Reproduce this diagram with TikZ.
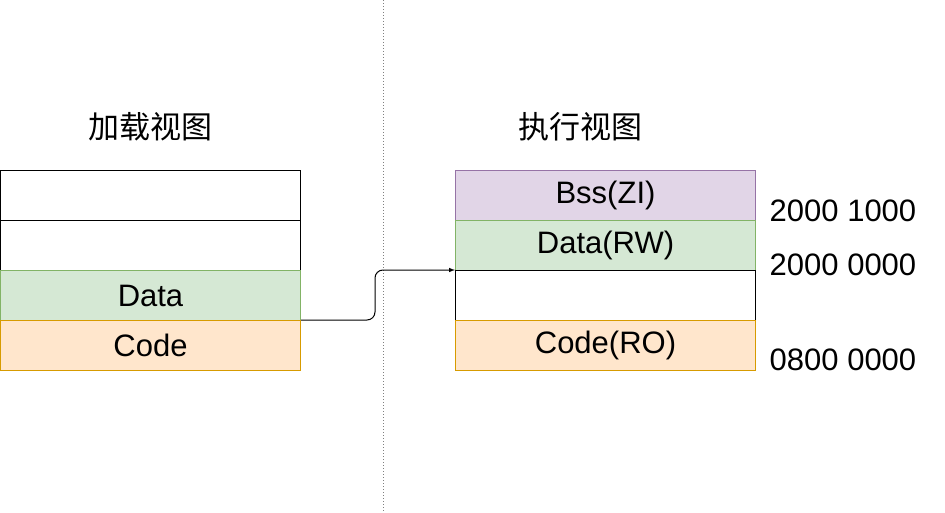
\documentclass[tikz,border=0pt]{standalone}
\usepackage{fontspec}
\setmainfont{Liberation Sans}
\newfontfamily\cjk{Noto Sans CJK SC}
\begin{document}
\begin{tikzpicture}[x=1pt,y=-1pt,line width=1pt,
  box/.style={draw=black,fill=white,minimum width=300pt,minimum height=50pt,anchor=north west,inner sep=0pt,font=\fontsize{31}{36}\selectfont},
  grn/.style={box,fill={rgb,255:red,213;green,232;blue,212},draw={rgb,255:red,130;green,179;blue,102}},
  org/.style={box,fill={rgb,255:red,255;green,230;blue,204},draw={rgb,255:red,215;green,155;blue,0}},
  pur/.style={box,fill={rgb,255:red,225;green,213;blue,231},draw={rgb,255:red,150;green,115;blue,166}},
  lbl/.style={font=\fontsize{31}{36}\selectfont},
  ttl/.style={font=\cjk\fontsize{31}{36}\selectfont}]
\useasboundingbox (0,0) rectangle (945,513);
\draw[dotted,gray] (383,0) -- (383,513);
\node[ttl] (t1) at (150,127) {加载视图};
\node[ttl] (t2) at (580,127) {执行视图};
\node[box] (l1) at (0,170) {};
\node[box] (l2) at (0,220) {};
\node[grn] (l3) at (0,270) {Data};
\node[org] (l4) at (0,320) {Code};
\node[pur] (r1) at (455,170) {Bss(ZI)};
\node[grn] (r2) at (455,220) {Data(RW)};
\node[box] (r3) at (455,270) {};
\node[org] (r4) at (455,320) {Code(RO)};
\node[lbl] (a1) at (843,211) {2000 1000};
\node[lbl] (a2) at (843,265) {2000 0000};
\node[lbl] (a3) at (843,360) {0800 0000};
\coordinate (s) at (l4.north east);
\coordinate (e) at (r3.north west);
\draw[-latex,rounded corners=8pt] (s) -- (375,320) -- (375,270) -- (e);
\end{tikzpicture}
\end{document}
